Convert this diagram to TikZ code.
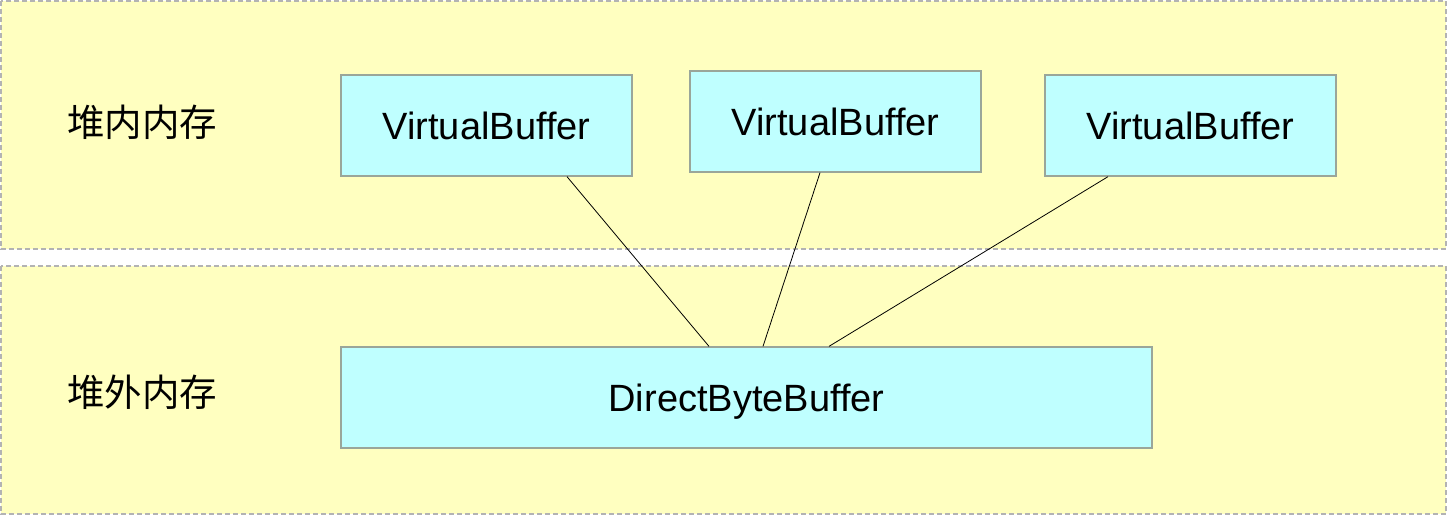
\documentclass[tikz,border=0pt]{standalone}
\usepackage{fontspec}
\setmainfont{Liberation Sans}
\newfontfamily\cjk{Noto Sans CJK SC}
\usetikzlibrary{calc}
\definecolor{zoneyellow}{HTML}{FFFFC0}
\definecolor{zoneline}{HTML}{B3B3B3}
\definecolor{boxcyan}{HTML}{BFFFFF}
\definecolor{boxline}{HTML}{9AA69A}
\tikzset{
  zone/.style={draw=zoneline, fill=zoneyellow, line width=1.5pt, dash pattern=on 5pt off 3pt},
  bufbox/.style={draw=boxline, fill=boxcyan, line width=1.3pt, inner sep=0pt, minimum height=101pt, text height=27.5pt, text depth=0pt, font=\fontsize{38}{40}\selectfont},
  zonelabel/.style={font=\cjk\fontsize{37.5}{40}\selectfont, inner sep=0pt},
  link/.style={draw=black, line width=0.8pt}
}
\begin{document}
\begin{tikzpicture}[x=1pt,y=-1pt]
\useasboundingbox (0,0) rectangle (1447,515);
\path[zone] (1,1) rectangle (1446,249);
\path[zone] (1,266) rectangle (1446,514);
\node[zonelabel] (heap) at (142,122) {堆内内存};
\node[zonelabel] (offheap) at (142,392) {堆外内存};
\node[bufbox, minimum width=291pt] (vb1) at (486.5,125.5) {VirtualBuffer};
\node[bufbox, minimum width=291pt] (vb2) at (835.5,121.5) {VirtualBuffer};
\node[bufbox, minimum width=291pt] (vb3) at (1190.5,125.5) {VirtualBuffer};
\node[bufbox, minimum width=811pt] (dbb) at (746.5,397.5) {DirectByteBuffer};
\draw[link] ([xshift=80.5pt]vb1.south) -- ([xshift=-37.5pt]dbb.north);
\draw[link] ([xshift=-15.5pt]vb2.south) -- ([xshift=16.5pt]dbb.north);
\draw[link] ([xshift=-82.5pt]vb3.south) -- ([xshift=82.5pt]dbb.north);
\end{tikzpicture}
\end{document}
